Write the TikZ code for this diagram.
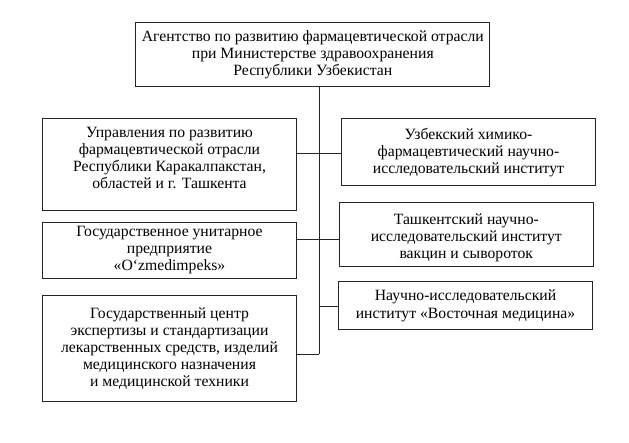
\documentclass[tikz,border=0pt]{standalone}
\usepackage{fontspec}
\setmainfont{Liberation Serif}
\begin{document}
\begin{tikzpicture}[x=1pt,y=-1pt,
  box/.style={draw=black!85, line width=0.9pt, rectangle, inner sep=0pt},
  txt/.style={inner sep=0pt, align=center, font=\fontsize{15.7}{17.1}\selectfont},
  conn/.style={draw=black!85, line width=0.9pt}]
\useasboundingbox (0,0) rectangle (629,443);
\node[box, minimum width=354pt, minimum height=64pt] (top) at (312.8,54.4) {};
\node[txt] (topT) at (top.center)
  {Агентство по развитию фармацевтической отрасли\\при Министерстве здравоохранения\\Республики Узбекистан};
\node[box, minimum width=254.4pt, minimum height=92pt] (l1) at (169.5,164) {};
\node[txt, yshift=6pt] (l1T) at (l1.center)
  {Управления по развитию\\фармацевтической отрасли\\Республики Каракалпакстан,\\областей и г. Ташкента};
\node[box, minimum width=254.4pt, minimum height=55.7pt] (l2) at (169.5,250.2) {};
\node[txt] (l2T) at (l2.center)
  {Государственное унитарное\\предприятие\\«O‘zmedimpeks»};
\node[box, minimum width=254.4pt, minimum height=105.7pt] (l3) at (169.5,348.8) {};
\node[txt] (l3T) at (l3.center)
  {Государственный центр\\экспертизы и стандартизации\\лекарственных средств, изделий\\медицинского назначения\\и медицинской техники};
\node[box, minimum width=254.4pt, minimum height=66.7pt] (r1) at (468.5,152.3) {};
\node[txt] (r1T) at (r1.center)
  {Узбекский химико-\\фармацевтический научно-\\исследовательский институт};
\node[box, minimum width=254pt, minimum height=64pt] (r2) at (466.3,234.7) {};
\node[txt, yshift=-3pt] (r2T) at (r2.center)
  {Ташкентский научно-\\исследовательский институт\\вакцин и сывороток};
\node[box, minimum width=253.6pt, minimum height=48.3pt] (r3) at (465.5,305.8) {};
\node[txt] (r3T) at (r3.center)
  {Научно-исследовательский\\институт «Восточная медицина»};
\coordinate (c1) at (319.3,153.5);
\coordinate (c2) at (319.3,239.3);
\coordinate (c3) at (319.3,306.7);
\coordinate (c4) at (319.3,354);
\draw[conn] (top.south -| c1) -- (c4);
\draw[conn] (l1.east |- c1) -- (r1.west |- c1);
\draw[conn] (l2.east |- c2) -- (r2.west |- c2);
\draw[conn] (c3) -- (r3.west |- c3);
\draw[conn] (l3.east |- c4) -- (c4);
\end{tikzpicture}
\end{document}
